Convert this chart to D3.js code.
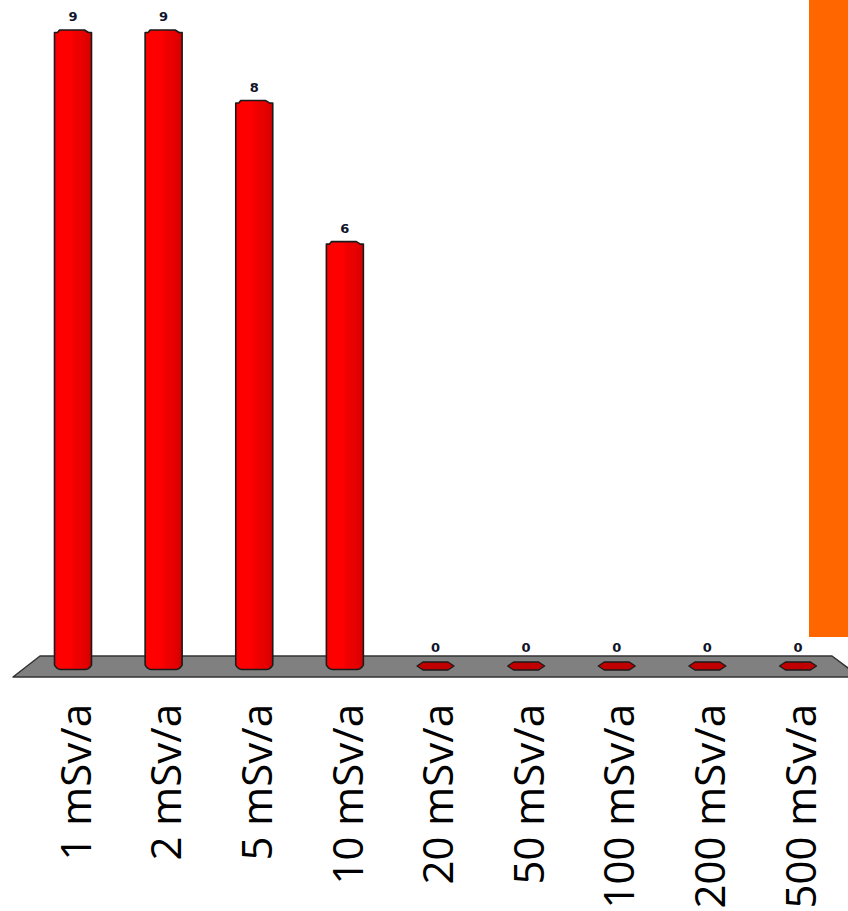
<!DOCTYPE html>
<html>
<head>
<meta charset="utf-8">
<script src="https://cdn.jsdelivr.net/npm/d3@7/dist/d3.min.js"></script>
<style>
  html, body { margin: 0; padding: 0; background: #fff; }
  svg { display: block; }
</style>
</head>
<body>
<svg id="chart" width="848" height="911"></svg>
<script>
// Dose-rate categories and the count recorded for each
const categories = ["1 mSv/a", "2 mSv/a", "5 mSv/a", "10 mSv/a", "20 mSv/a",
                    "50 mSv/a", "100 mSv/a", "200 mSv/a", "500 mSv/a"];
const counts = [9, 9, 8, 6, 0, 0, 0, 0, 0];

const W = 848, H = 911;
const svg = d3.select("#chart");

const x = d3.scalePoint().domain(categories).range([73, 798]);
const y = d3.scaleLinear().domain([0, 9]).range([666, 31]);
const barW = 37;
const ry = 4;

// cylinder shading
const defs = svg.append("defs");
const grad = defs.append("linearGradient").attr("id", "cyl")
  .attr("x1", "0%").attr("x2", "100%").attr("y1", "0%").attr("y2", "0%");
[["0%", "#ff0000"], ["42%", "#ff0000"], ["55%", "#f00000"], ["80%", "#e60000"], ["100%", "#d20000"]]
  .forEach(([o, c]) => grad.append("stop").attr("offset", o).attr("stop-color", c));

// orange side band
svg.append("rect").attr("x", 809).attr("y", 0).attr("width", W - 809).attr("height", 637)
  .attr("fill", "#ff6600");

// grey floor
const fTop = y(0) - 10, fBot = y(0) + 11;
svg.append("path")
  .attr("d", `M40,${fTop} L832,${fTop} L860,${fBot} L13,${fBot} Z`)
  .attr("fill", "#808080").attr("stroke", "#333").attr("stroke-width", 1.5)
  .attr("stroke-linejoin", "round");

const data = categories.map((c, i) => ({ c, v: counts[i] }));

// bars drawn as cylinders
function cylPath(d) {
  const cx = x(d.c), l = cx - barW / 2, r = cx + barW / 2;
  const top = y(d.v), base = y(0);
  return `M${l},${top + 1.5}` +
    ` L${l + 3},${top + 1.5} L${l + 5},${top - 1} L${r - 7},${top - 1} L${r - 3},${top + 1.5} L${r},${top + 1.5}` +
    ` L${r},${base - 1}` +
    ` Q${r - 2},${base + ry - 1} ${r - 6},${base + ry - 0.5} L${l + 6},${base + ry - 0.5} Q${l + 2},${base + ry - 1} ${l},${base - 1} Z`;
}

svg.selectAll("path.bar").data(data.filter(d => d.v > 0)).join("path")
  .attr("class", "bar")
  .attr("d", cylPath)
  .attr("fill", "url(#cyl)")
  .attr("stroke", "#1a1a1a").attr("stroke-width", 1.6)
  .attr("stroke-linejoin", "round");

// zero-height bars show as flat discs
svg.selectAll("path.zero").data(data.filter(d => d.v === 0)).join("path")
  .attr("class", "zero")
  .attr("d", d => {
    const cx = x(d.c), c = y(0), hw = barW / 2;
    return `M${cx - hw},${c} L${cx - hw + 6},${c - ry} L${cx + hw - 6},${c - ry} L${cx + hw},${c}` +
      ` L${cx + hw - 6},${c + ry} L${cx - hw + 6},${c + ry} Z`;
  })
  .attr("fill", "#c00000").attr("stroke", "#1a1a1a").attr("stroke-width", 1.3)
  .attr("stroke-linejoin", "round");

// value labels
svg.selectAll("text.val").data(data).join("text")
  .attr("class", "val")
  .attr("x", d => x(d.c))
  .attr("y", d => (d.v > 0 ? y(d.v) : y(0) - ry) - 10)
  .attr("text-anchor", "middle")
  .attr("font-family", "DejaVu Sans, Verdana, sans-serif")
  .attr("font-weight", "bold").attr("font-size", 13)
  .attr("fill", "#10142a")
  .text(d => d.v);

// category labels, rotated
svg.selectAll("text.cat").data(categories).join("text")
  .attr("class", "cat")
  .attr("transform", d => `translate(${x(d)},704) rotate(-90)`)
  .attr("text-anchor", "end")
  .attr("dy", "0.42em")
  .attr("font-family", "Open Sans, sans-serif")
  .attr("font-size", 42)
  .attr("fill", "#000")
  .text(d => d);
</script>
</body>
</html>
